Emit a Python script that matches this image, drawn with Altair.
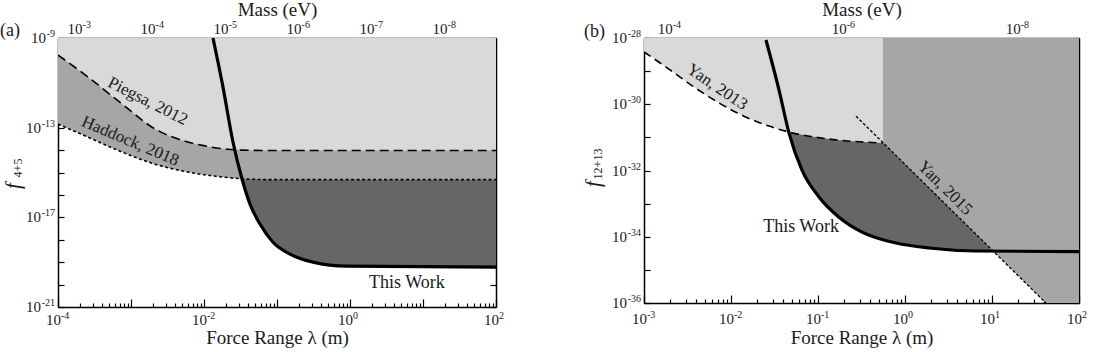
import math
import altair as alt
import pandas as pd

FONT = "Liberation Serif"
HBARC = 1.97327e-7  # eV*m : mass = HBARC / lambda
C_LIGHT, C_MID, C_DARK = "#d9d9d9", "#a6a6a6", "#666666"
INK = "#1a1a1a"

# ---------------- panel (a): log10(lambda / m), log10(f) ----------------
A_PIEGSA_LX = [-4.0, -3.59, -3.12, -2.67, -2.22, -1.89, -1.48, -1.0, 2.0]
A_PIEGSA_LF = [-9.76, -10.74, -11.95, -13.06, -13.64, -13.87, -14.0, -14.02, -14.02]
A_HADDOCK_LX = [-4.0, -3.59, -3.12, -2.67, -2.22, -1.75, -1.37, -1.0, 2.0]
A_HADDOCK_LF = [-12.84, -13.42, -14.09, -14.63, -14.98, -15.2, -15.3, -15.32, -15.32]
A_WORK_LX = [-1.877, -1.74, -1.603, -1.479, -1.370, -1.233, -1.055, -0.822, -0.507, -0.041, 2.0]
A_WORK_LF = [-9.0, -11.19, -13.64, -15.29, -16.41, -17.30, -18.11, -18.64, -19.0, -19.18, -19.22]
A_WORK_CROSS = 3

A_LABEL_TEXT = ["Piegsa, 2012", "Haddock, 2018", "This Work"]
A_LABEL_LX = [-2.77, -3.01, 0.78]
A_LABEL_LF = [-11.82, -13.6, -19.94]
A_LABEL_ANGLE = [27, 23, 0]
A_LABEL_SIZE = [17, 17, 18]

A_X_LABELED = [-4, -2, 0, 2]
A_Y_DECADES = list(range(-21, -8))
A_Y_LABELED = [-9, -13, -17, -21]
A_MASS_LABELED = [-3, -4, -5, -6, -7, -8]

# ---------------- panel (b) ----------------
B_YAN13_LX = [-3.0, -2.713, -2.425, -2.138, -1.851, -1.563, -1.333, -0.874, -0.253]
B_YAN13_LF = [-28.42, -28.94, -29.48, -29.96, -30.36, -30.66, -30.84, -31.05, -31.17]
B_YAN15_LX = [-0.563, 1.62]
B_YAN15_LF = [-30.36, -36.0]
B_YAN15_FILL_LX = [-0.253, 1.62, 2.0]
B_YAN15_FILL_LF = [-31.16, -36.0, -36.0]
B_WORK_LX = [-1.598, -1.448, -1.333, -1.184, -0.989, -0.759, -0.494, -0.103, 0.276, 0.816, 2.0]
B_WORK_LF = [-28.06, -29.57, -30.87, -31.99, -32.80, -33.41, -33.86, -34.19, -34.34, -34.43, -34.45]
B_WORK_CROSS = 2

B_LABEL_TEXT = ["Yan, 2013", "Yan, 2015", "This Work"]
B_LABEL_LX = [-2.16, 0.46, -1.195]
B_LABEL_LF = [-29.48, -32.53, -33.71]
B_LABEL_ANGLE = [34, 45, 0]
B_LABEL_SIZE = [17, 17, 18]

B_X_LABELED = [-3, -2, -1, 0, 1, 2]
B_Y_DECADES = list(range(-36, -27))
B_Y_LABELED = [-28, -30, -32, -34, -36]
B_MASS_LABELED = [-4, -6, -8]

EXP_W = {1: 6, 2: 9, 3: 14}  # approximate pixel width of exponent text


def log_vals(lo, hi):
    out = []
    for e in range(int(math.floor(math.log10(lo))) - 1, int(math.ceil(math.log10(hi))) + 1):
        for k in range(1, 10):
            v = k * 10.0 ** e
            if lo * (1 - 1e-9) <= v <= hi * (1 + 1e-9):
                out.append((k, v))
    return out


def curve_df(lx, lf, top):
    return pd.DataFrame({"lam": [10.0 ** v for v in lx], "f": [10.0 ** v for v in lf],
                         "top": [top] * len(lx)})


AX_STYLE = dict(domainColor="black", domainWidth=1.5, tickColor="black", tickWidth=1.2,
                grid=False, titleFont=FONT, titleFontSize=19, titleFontWeight="normal",
                titleColor=INK)


def make_panel(xdom, ydom, w, h, areas, lines, lab, x_labeled, y_dec, y_labeled,
               mass_labeled, ann, top_title_pad, bottom_lab_y, bottom_title_pad):
    xs = alt.Scale(type="log", domain=xdom, nice=False)
    ys = alt.Scale(type="log", domain=ydom, nice=False)

    lam_t = log_vals(xdom[0], xdom[1])
    x_major = [v for k, v in lam_t if k == 1]
    x_minor = [v for k, v in lam_t if k != 1]
    m_t = log_vals(HBARC / xdom[1], HBARC / xdom[0])
    m_major = [HBARC / v for k, v in m_t if k == 1]
    m_minor = [HBARC / v for k, v in m_t if k != 1]
    y_vals = [10.0 ** e for e in y_dec]

    ax_bottom = alt.Axis(orient="bottom", values=x_major, tickSize={"expr": "-8"}, labels=False,
                         title="Force Range λ (m)", titlePadding=bottom_title_pad, **AX_STYLE)
    ax_bottom_minor = alt.Axis(orient="bottom", values=x_minor, tickSize={"expr": "-4"},
                               labels=False, domain=False, title=None, **AX_STYLE)
    ax_top = alt.Axis(orient="top", values=m_major, tickSize={"expr": "-8"}, labels=False,
                      title="Mass (eV)", titlePadding=top_title_pad, **AX_STYLE)
    ax_top_minor = alt.Axis(orient="top", values=m_minor, tickSize={"expr": "-4"},
                            labels=False, domain=False, title=None, **AX_STYLE)
    ax_left = alt.Axis(orient="left", values=y_vals, tickSize={"expr": "-6"}, labels=False,
                       title=None, **AX_STYLE)
    ax_right = alt.Axis(orient="right", values=y_vals, tickSize={"expr": "-6"},
                        labels=False, title=None, **AX_STYLE)
    x_axes = [ax_bottom, ax_bottom_minor, ax_top, ax_top_minor]
    y_axes = [ax_left, ax_right]

    layers = []
    idx = 0

    def enc(chart):
        nonlocal idx
        xa = x_axes[idx] if idx < len(x_axes) else None
        ya = y_axes[idx] if idx < len(y_axes) else None
        idx += 1
        return chart.encode(
            x=alt.X("lam:Q", scale=xs, axis=xa),
            y=alt.Y("f:Q", scale=ys, axis=ya),
        )

    for df, color, interp in areas:
        c = alt.Chart(df).mark_area(color=color, clip=True, interpolate=interp, opacity=1)
        c = enc(c).encode(y2="top:Q")
        layers.append(c)
    for df, dash, width, interp in lines:
        kw = {}
        if dash:
            kw["strokeDash"] = dash
        c = alt.Chart(df).mark_line(color="black", strokeWidth=width, clip=True,
                                    interpolate=interp, **kw)
        layers.append(enc(c))

    # curve labels
    layers.append(alt.Chart(lab).mark_text(font=FONT, color=INK, align="center",
                                           baseline="middle").encode(
        x=alt.X("lam:Q", scale=xs, axis=None),
        y=alt.Y("f:Q", scale=ys, axis=None),
        text="text:N",
        angle=alt.Angle("angle:Q", scale=None),
        size=alt.Size("size:Q", scale=None, legend=None),
    ))

    # ---- tick labels "10" + superscript exponent ----
    def xlab_layers(vals, exps, ybase):
        df = pd.DataFrame({"lam": vals, "e": [str(e) for e in exps]})
        base = alt.Chart(df).mark_text(text="10", font=FONT, fontSize=15, color=INK,
                                       align="right", baseline="alphabetic", dx=3).encode(
            x=alt.X("lam:Q", scale=xs, axis=None), y=alt.value(ybase))
        sup = alt.Chart(df).mark_text(font=FONT, fontSize=10, color=INK,
                                      align="left", baseline="alphabetic", dx=3).encode(
            x=alt.X("lam:Q", scale=xs, axis=None), y=alt.value(ybase - 6), text="e:N")
        return [base, sup]

    layers += xlab_layers([10.0 ** e for e in x_labeled], x_labeled, h + bottom_lab_y)
    layers += xlab_layers([HBARC / 10.0 ** e for e in mass_labeled], mass_labeled, -4)

    ydf = pd.DataFrame({"f": [10.0 ** e for e in y_labeled], "e": [str(e) for e in y_labeled],
                        "n": [len(str(e)) for e in y_labeled]})
    layers.append(alt.Chart(ydf).mark_text(font=FONT, fontSize=10, color=INK, align="right",
                                           baseline="alphabetic", dy=-1).encode(
        x=alt.value(-3), y=alt.Y("f:Q", scale=ys, axis=None), text="e:N"))
    for n in sorted(set(ydf["n"])):
        layers.append(alt.Chart(ydf).transform_filter(alt.datum.n == n).mark_text(
            text="10", font=FONT, fontSize=15, color=INK, align="right",
            baseline="alphabetic", dy=5).encode(
            x=alt.value(-3 - EXP_W[n]), y=alt.Y("f:Q", scale=ys, axis=None)))

    for t, px, py, size, angle, style, align in ann:
        layers.append(
            alt.Chart(pd.DataFrame({"k": [0]})).mark_text(
                text=t, font=FONT, fontSize=size, angle=angle, fontStyle=style,
                align=align, baseline="middle", color=INK,
            ).encode(x=alt.value(px), y=alt.value(py))
        )

    return alt.layer(*layers).resolve_axis(x="independent", y="independent").properties(
        width=w, height=h)


# ---------------- build panel (a) ----------------
A_TOP = 1e-9
a_work = curve_df(A_WORK_LX, A_WORK_LF, A_TOP)
a_dark = curve_df(A_WORK_LX[A_WORK_CROSS:], A_WORK_LF[A_WORK_CROSS:], A_TOP)
a_pieg = curve_df(A_PIEGSA_LX, A_PIEGSA_LF, A_TOP)
a_hadd = curve_df(A_HADDOCK_LX, A_HADDOCK_LF, A_TOP)
a_lab = pd.DataFrame({"lam": [10.0 ** v for v in A_LABEL_LX], "f": [10.0 ** v for v in A_LABEL_LF],
                      "text": A_LABEL_TEXT, "angle": A_LABEL_ANGLE, "size": A_LABEL_SIZE})
panel_a = make_panel(
    [1e-4, 1e2], [1e-21, A_TOP], 438, 269,
    areas=[(a_dark, C_DARK, "monotone"), (a_hadd, C_MID, "monotone"), (a_pieg, C_LIGHT, "monotone")],
    lines=[(a_pieg, [9, 5], 1.6, "monotone"), (a_hadd, [3, 2.5], 1.6, "monotone"),
           (a_work, None, 3.2, "monotone")],
    lab=a_lab, x_labeled=A_X_LABELED, y_dec=A_Y_DECADES, y_labeled=A_Y_LABELED,
    mass_labeled=A_MASS_LABELED,
    ann=[("(a)", -58, -7, 18, 0, "normal", "left"),
         ("f", -44, 148, 21, 270, "italic", "center"),
         ("4+5", -40, 130, 12, 270, "normal", "center")],
    top_title_pad=18, bottom_lab_y=18, bottom_title_pad=21,
)

# ---------------- build panel (b) ----------------
B_TOP = 1e-28
b_work = curve_df(B_WORK_LX, B_WORK_LF, B_TOP)
b_dark = curve_df(B_WORK_LX[B_WORK_CROSS:], B_WORK_LF[B_WORK_CROSS:], B_TOP)
b_y13 = curve_df(B_YAN13_LX, B_YAN13_LF, B_TOP)
b_y15 = curve_df(B_YAN15_LX, B_YAN15_LF, B_TOP)
b_y15f = curve_df(B_YAN15_FILL_LX, B_YAN15_FILL_LF, B_TOP)
b_lab = pd.DataFrame({"lam": [10.0 ** v for v in B_LABEL_LX], "f": [10.0 ** v for v in B_LABEL_LF],
                      "text": B_LABEL_TEXT, "angle": B_LABEL_ANGLE, "size": B_LABEL_SIZE})
panel_b = make_panel(
    [1e-3, 1e2], [1e-36, B_TOP], 435, 265,
    areas=[(b_dark, C_DARK, "monotone"), (b_y13, C_LIGHT, "monotone"), (b_y15f, C_MID, "linear")],
    lines=[(b_y13, [8, 5], 1.6, "monotone"), (b_y15, [3, 2], 1.3, "linear"),
           (b_work, None, 3.2, "monotone")],
    lab=b_lab, x_labeled=B_X_LABELED, y_dec=B_Y_DECADES, y_labeled=B_Y_LABELED,
    mass_labeled=B_MASS_LABELED,
    ann=[("(b)", -60, -6, 18, 0, "normal", "left"),
         ("f", -50, 146, 21, 270, "italic", "center"),
         ("12+13", -46, 126, 12, 270, "normal", "center")],
    top_title_pad=18, bottom_lab_y=21, bottom_title_pad=25,
)

chart = alt.hconcat(panel_a, panel_b, spacing=79).properties(
    padding={"left": 0, "top": 0, "right": 0, "bottom": 0}
).configure_view(stroke=None)

chart.save("out.html", embed_options={"renderer": "svg", "actions": False})
